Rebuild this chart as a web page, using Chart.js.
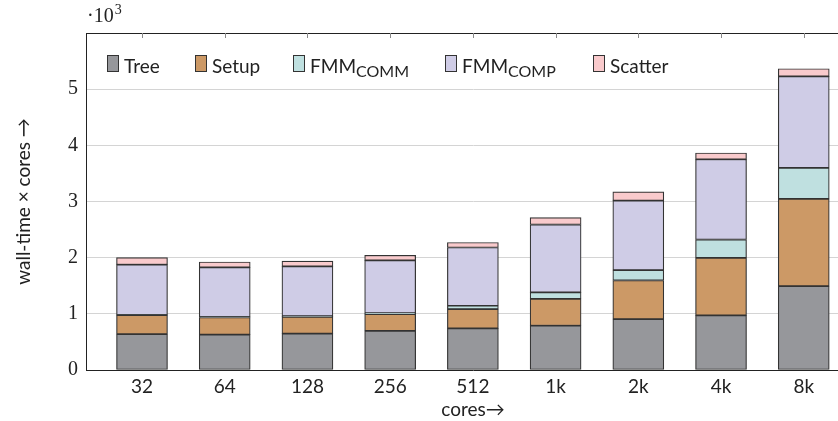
<!DOCTYPE html>
<html>
<head>
<meta charset="utf-8">
<script src="https://cdn.jsdelivr.net/npm/chart.js@4.4.1/dist/chart.umd.min.js"></script>
<style>
html, body { margin: 0; padding: 0; overflow: hidden; background: #fff; }
#wrap { position: relative; width: 862px; height: 421px; }
</style>
</head>
<body>
<div id="wrap"><canvas id="c"></canvas></div>
<script>
// values are wall-time x cores, plotted in units of 10^3
const cores = ['32', '64', '128', '256', '512', '1k', '2k', '4k', '8k'];
const tree    = [637, 631, 649, 696, 741, 788, 907, 972, 1493];
const setup   = [339, 304, 297, 298, 343, 480, 687, 1025, 1553];
const fmmComm = [6, 11, 12, 18, 60, 113, 184, 326, 551];
const fmmComp = [893, 881, 887, 940, 1037, 1209, 1238, 1428, 1630];
const scatter = [125, 96, 95, 90, 89, 124, 154, 113, 137];

const seriesNames = [['Tree', ''], ['Setup', ''], ['FMM', 'COMM'], ['FMM', 'COMP'], ['Scatter', '']];
const fills = ['#96979b', '#cc9966', '#bfe0e0', '#cfcce6', '#f9cacc'];
const series = [tree, setup, fmmComm, fmmComp, scatter];

const SANS = 'Lato';
const SERIF = '"Liberation Serif"';
const legendX = [107, 195, 293, 445, 593];

const frame = {
  id: 'frame',
  afterDraw(chart) {
    const {ctx, chartArea: a, scales: {x}} = chart;
    ctx.save();
    ctx.strokeStyle = '#222';
    ctx.lineWidth = 1;
    ctx.beginPath();
    ctx.moveTo(a.left, a.top + 0.5);
    ctx.lineTo(a.right, a.top + 0.5);
    ctx.moveTo(a.right - 0.5, a.top);
    ctx.lineTo(a.right - 0.5, a.bottom);
    ctx.stroke();
    // small ticks under the top border
    ctx.strokeStyle = '#888';
    cores.forEach((c, i) => {
      const px = Math.round(x.getPixelForValue(i)) + 0.5;
      ctx.beginPath();
      ctx.moveTo(px, a.top);
      ctx.lineTo(px, a.top + 5);
      ctx.stroke();
    });

    // multiplier above the y axis
    ctx.fillStyle = '#222';
    ctx.textBaseline = 'alphabetic';
    ctx.font = '20px ' + SERIF;
    ctx.fillText('\u00b710', 87, 22);
    const w = ctx.measureText('\u00b710').width;
    ctx.font = '14px ' + SERIF;
    ctx.fillText('3', 87 + w + 1, 14);

    // legend
    seriesNames.forEach((n, i) => {
      let lx = legendX[i];
      ctx.fillStyle = fills[i];
      ctx.fillRect(lx, 55, 12, 17);
      ctx.strokeStyle = '#333';
      ctx.strokeRect(lx + 0.5, 55.5, 11, 16);
      lx += 17;
      ctx.fillStyle = '#222';
      ctx.font = '19px ' + SANS;
      ctx.fillText(n[0], lx, 73);
      lx += ctx.measureText(n[0]).width;
      if (n[1]) {
        ctx.font = '16px ' + SANS;
        ctx.fillText(n[1], lx, 77);
      }
    });
    ctx.restore();
  }
};

new Chart(document.getElementById('c'), {
  type: 'bar',
  data: {
    datasets: series.map((s, k) => ({
      label: seriesNames[k].join(' ').trim(),
      data: s.map((v, i) => ({x: i, y: v})),
      backgroundColor: fills[k],
      borderColor: '#333',
      borderWidth: 1.2,
      borderSkipped: false,
      barThickness: 51
    }))
  },
  options: {
    responsive: true,
    maintainAspectRatio: false,
    animation: false,
    layout: {padding: {top: 33, right: 2, bottom: 0, left: 0}},
    plugins: {legend: {display: false}, tooltip: {enabled: false}},
    scales: {
      x: {
        type: 'linear',
        min: -0.677,
        max: 8.68,
        stacked: true,
        offset: false,
        grid: {display: false, drawTicks: false},
        border: {display: true, color: '#222', width: 1},
        afterBuildTicks: s => { s.ticks = cores.map((c, i) => ({value: i})); },
        afterFit: s => { s.height = 51; },
        ticks: {
          autoSkip: false, maxRotation: 0, padding: 5, color: '#222',
          font: {family: SANS, size: 19},
          callback: v => cores[v]
        },
        title: {
          display: true, text: 'cores\u2192', color: '#222',
          font: {family: SANS, size: 19}, padding: {top: 0, bottom: 0}
        }
      },
      y: {
        min: 0,
        max: 6000,
        stacked: true,
        grid: {
          drawTicks: false,
          color: c => (c.tick.value === 0 || c.tick.value === 6000) ? 'rgba(0,0,0,0)' : '#d4d4d4',
          lineWidth: 1
        },
        border: {display: true, color: '#222', width: 1},
        afterFit: s => { s.width = 86; },
        ticks: {
          stepSize: 1000, padding: 8, color: '#222',
          font: {family: SERIF, size: 20},
          callback: v => v === 6000 ? '' : String(v / 1000)
        },
        title: {
          display: true, text: 'wall-time \u00d7 cores \u2192', color: '#222',
          font: {family: SANS, size: 19}, padding: {top: 12, bottom: 0}
        }
      }
    }
  },
  plugins: [frame]
});
</script>
</body>
</html>
